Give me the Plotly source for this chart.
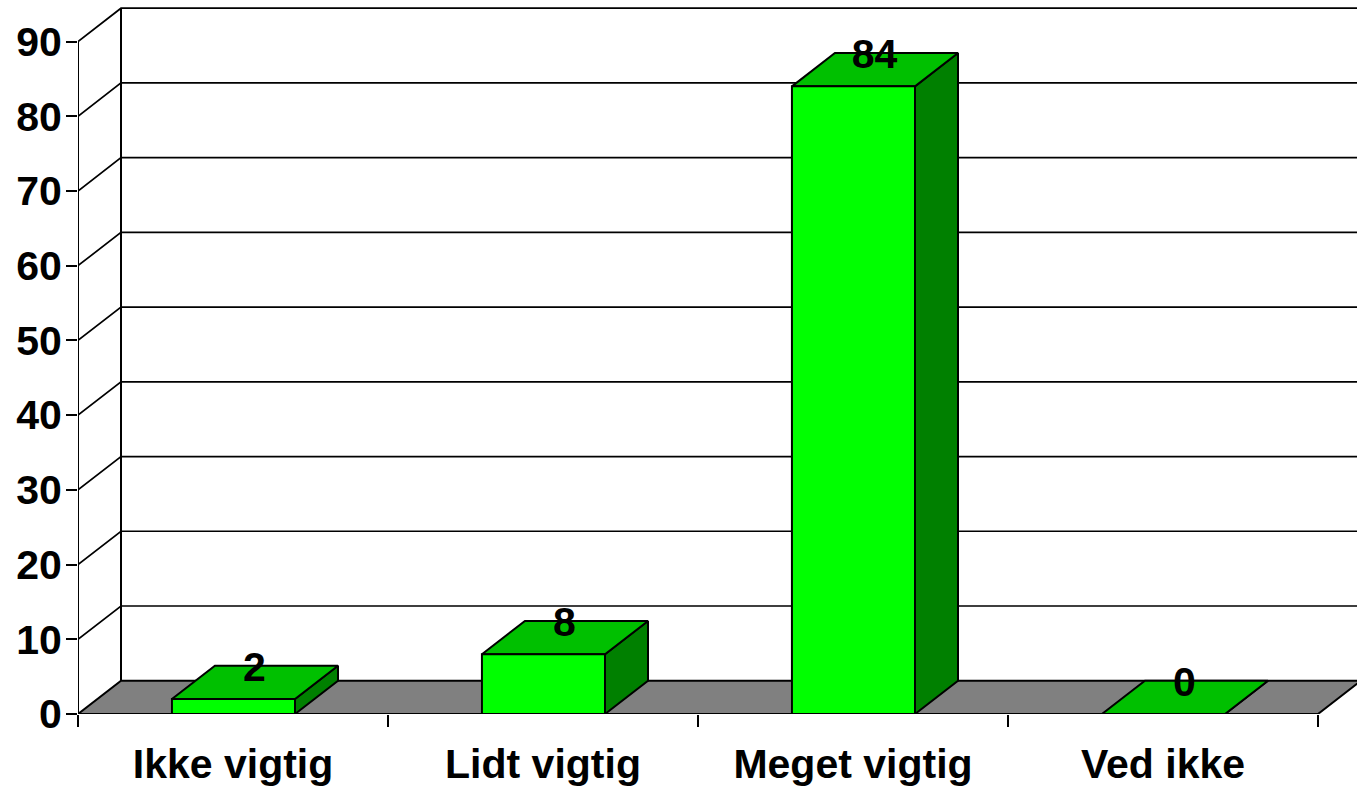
import plotly.graph_objects as go

categories = ["Ikke vigtig", "Lidt vigtig", "Meget vigtig", "Ved ikke"]
values = [2, 8, 84, 0]
y_ticks = [0, 10, 20, 30, 40, 50, 60, 70, 80, 90]

DX = 43 / 310      # depth offset in category units
DY = 33.3 / 7.472  # depth offset in value units
BAR_L, BAR_R = 0.303, 0.70
LABEL_DX = -0.5 / 310
LABEL_DY = -5 / 7.472
FONT = "Liberation Sans"
FS = 41
n = len(categories)
LW = 2


def poly(xs, ys, fill=None, width=LW):
    kw = dict(fill="toself", fillcolor=fill) if fill else {}
    return go.Scatter(x=xs, y=ys, mode="lines", line=dict(color="black", width=width),
                      hoverinfo="skip", showlegend=False, **kw)


fig = go.Figure()

# back wall gridlines, wall edges and floor
gx, gy = [], []
for t in y_ticks[1:]:
    gx += [0, DX, n + DX + 1, None]
    gy += [t, t + DY, t + DY, None]
fig.add_trace(poly(gx, gy, width=1.7))
fig.add_trace(poly([0, 0, None, DX, DX], [0, y_ticks[-1], None, DY, y_ticks[-1] + DY]))
fig.add_trace(poly([0, n, n + DX, DX, 0], [0, 0, DY, DY, 0], fill="#808080"))

# 3D bars
for i, v in enumerate(values):
    l, r = i + BAR_L, i + BAR_R
    fig.add_trace(poly([r, r + DX, r + DX, r, r], [0, DY, v + DY, v, 0], fill="#008000"))
    fig.add_trace(poly([l, r, r + DX, l + DX, l], [v, v, v + DY, v + DY, v], fill="#00C000"))
    fig.add_trace(poly([l, r, r, l, l], [0, 0, v, v, 0], fill="#00FF00"))

# value labels at the back edge of each bar top
fig.add_trace(go.Scatter(
    x=[i + (BAR_L + BAR_R + DX) / 2 + LABEL_DX for i in range(n)],
    y=[v + DY + LABEL_DY for v in values],
    text=[str(v) for v in values],
    mode="text", textposition="middle center",
    textfont=dict(family=FONT, size=FS, color="black", weight="bold"),
    hoverinfo="skip", showlegend=False))

fig.update_layout(
    width=1357, height=791,
    margin=dict(l=78, r=0, t=0, b=77, pad=0),
    paper_bgcolor="white", plot_bgcolor="white",
    showlegend=False,
    xaxis=dict(
        range=[0, 1279 / 310], tickmode="array",
        tickvals=[i + 0.5 for i in range(n)], ticktext=categories,
        ticks="", showgrid=False, zeroline=False, showline=False,
        ticklabelstandoff=22,
        tickfont=dict(family=FONT, size=FS, color="black", weight="bold"),
        minor=dict(tickmode="array", tickvals=list(range(n + 1)), ticks="outside",
                   ticklen=12, tickwidth=1.7, tickcolor="black", showgrid=False),
    ),
    yaxis=dict(
        range=[0, 714 / 7.472], tickmode="array", tickvals=y_ticks,
        ticks="outside", ticklen=11, tickwidth=1.7, tickcolor="black",
        showgrid=False, zeroline=False, showline=False,
        ticklabelstandoff=-4,
        tickfont=dict(family=FONT, size=FS, color="black", weight="bold"),
    ),
)
fig.write_html("out.html", config={"displayModeBar": False},
               post_script="document.body.style.margin='0';")
